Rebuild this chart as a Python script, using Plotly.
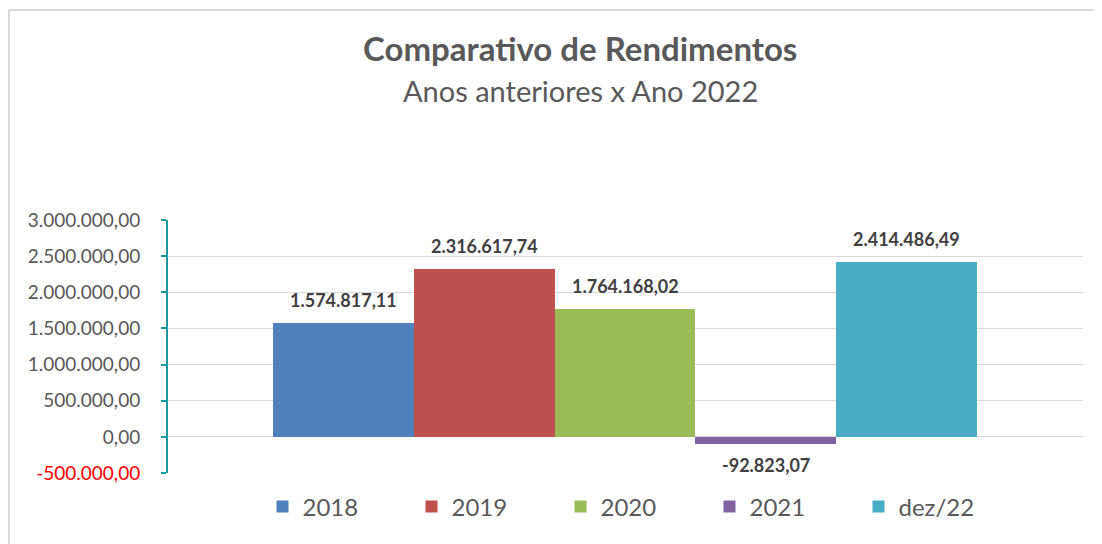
import plotly.graph_objects as go

series_names = ["2018", "2019", "2020", "2021", "dez/22"]
series_values = [1574817.11, 2316617.74, 1764168.02, -92823.07, 2414486.49]
series_colors = ["#4F81BD", "#C0504D", "#9BBB59", "#8064A2", "#4BACC6"]
tick_values = [-500000, 0, 500000, 1000000, 1500000, 2000000, 2500000, 3000000]


def fmt_br(v):
    s = f"{abs(v):,.2f}".replace(",", "X").replace(".", ",").replace("X", ".")
    return ("-" if v < 0 else "") + s


tick_text = []
for v in tick_values:
    t = fmt_br(v)
    if v < 0:
        t = f"<span style='color:#FF0000'>{t}</span>"
    tick_text.append(t)

FONT = "Lato, 'Open Sans', sans-serif"

# page offset (browser body margin)
OFF = 8
W, H = 1102 - OFF, 544 - OFF
L = 168 - OFF
R = W - (1083 - OFF)
T = 220 - OFF
B = H - (473 - OFF)
pw, ph = W - L - R, H - T - B


def px_x(px):
    return (px - OFF - L) / pw


def px_y(py):
    return (H - B - (py - OFF)) / ph


# x-range so that bars (unit width) span page px 273..977
n = len(series_names)
unit = (977 - 273) / n
x0 = -0.5 - (273 - 168) / unit
x1 = n - 0.5 + (1083 - 977) / unit

fig = go.Figure()
for i, (name, val, col) in enumerate(zip(series_names, series_values, series_colors)):
    fig.add_trace(go.Bar(
        x=[i], y=[val], name=name, width=1,
        marker=dict(color=col, line=dict(width=0)),
        hoverinfo="skip",
    ))

annotations = []
for i, val in enumerate(series_values):
    annotations.append(dict(
        x=i, y=val, xref="x", yref="y", text=f"<b>{fmt_br(val)}</b>",
        showarrow=False, xanchor="center", yanchor="middle",
        yshift=23 if val >= 0 else -21,
        font=dict(family=FONT, size=18, color="#404040"),
    ))

annotations += [
    dict(text="<b>Comparativo de Rendimentos</b>", x=px_x(580), y=px_y(48),
         xref="paper", yref="paper", showarrow=False, xanchor="center", yanchor="middle",
         font=dict(size=33, color="#595959", family=FONT)),
    dict(text="Anos anteriores x Ano 2022", x=px_x(580), y=px_y(90),
         xref="paper", yref="paper", showarrow=False, xanchor="center", yanchor="middle",
         font=dict(size=29, color="#595959", family=FONT)),
]

fig.update_layout(
    width=W, height=H,
    margin=dict(l=L, r=R, t=T, b=B),
    paper_bgcolor="white", plot_bgcolor="white",
    barmode="overlay", bargap=0,
    font=dict(family=FONT, color="#595959"),
    showlegend=True,
    legend=dict(orientation="h", x=px_x(635), xanchor="center", y=px_y(507), yanchor="middle",
                font=dict(size=24, color="#595959"), itemwidth=30,
                tracegroupgap=0, entrywidthmode="pixels", entrywidth=104),
    xaxis=dict(type="linear", range=[x0, x1], showticklabels=False, showgrid=False,
               zeroline=False, showline=False, fixedrange=True),
    yaxis=dict(range=[-500000, 3000000], tickvals=tick_values, ticktext=tick_text,
               showgrid=True, gridcolor="#D9D9D9", gridwidth=1.3,
               zeroline=False, showline=True, linecolor="#1A9C9C", linewidth=2,
               ticks="outside", tickcolor="#1A9C9C", ticklen=5, tickwidth=2,
               tickfont=dict(size=19, color="#595959", family=FONT), ticklabelstandoff=17),
    annotations=annotations,
    shapes=[
        dict(type="line", xref="paper", yref="paper", x0=px_x(9), x1=px_x(9),
             y0=px_y(10), y1=px_y(560), line=dict(color="#D9D9D9", width=2)),
        dict(type="line", xref="paper", yref="paper", x0=px_x(9), x1=px_x(1120),
             y0=px_y(10), y1=px_y(10), line=dict(color="#D9D9D9", width=2)),
    ],
)

fig.write_html("out.html")
